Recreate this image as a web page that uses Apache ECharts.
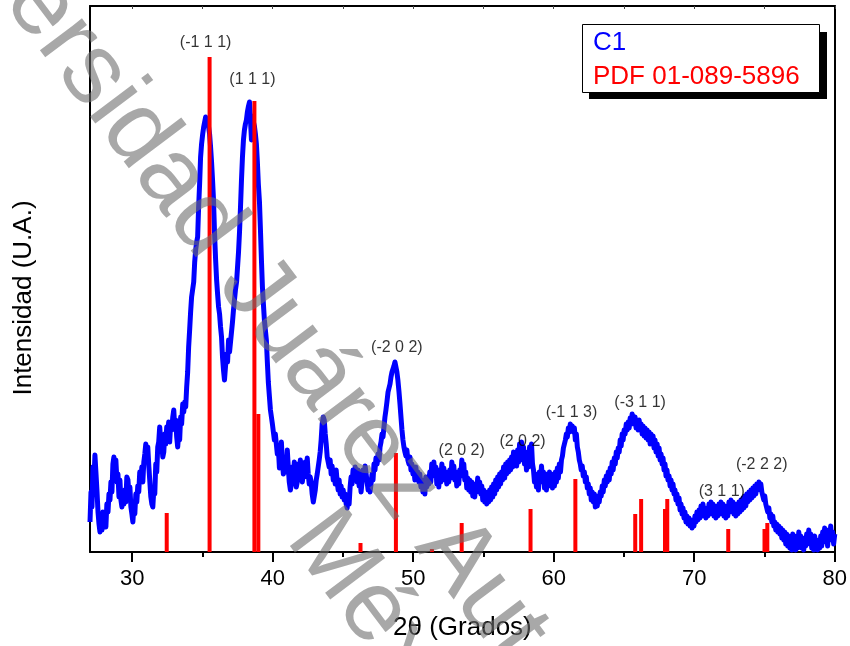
<!DOCTYPE html>
<html>
<head>
<meta charset="utf-8">
<title>DRX C1</title>
<script src="https://cdn.jsdelivr.net/npm/echarts@6/dist/echarts.min.js"></script>
<style>
    html, body { margin: 0; padding: 0; background: #fff; }
    #chart { width: 850px; height: 646px; }
</style>
</head>
<body>
<div id="chart"></div>
<script>
// difractograma de la muestra C1: [2theta, intensidad (u.a.)]
var c1Scan = [
    [27.00,30],[27.07,60],[27.14,45],[27.21,85],[27.28,70],[27.35,97],[27.42,80],[27.50,60],[27.57,40],[27.64,28],
    [27.71,20],[27.78,32],[27.85,22],[27.92,40],[27.99,28],[28.06,35],[28.13,25],[28.20,48],[28.28,40],[28.35,58],
    [28.42,52],[28.49,70],[28.56,60],[28.63,88],[28.70,95],[28.77,80],[28.84,92],[28.92,70],[28.99,78],[29.06,55],
    [29.13,72],[29.20,52],[29.27,45],[29.34,60],[29.41,48],[29.48,62],[29.55,50],[29.62,75],[29.70,72],[29.77,58],
    [29.84,65],[29.91,45],[29.98,38],[30.05,30],[30.12,45],[30.19,38],[30.26,58],[30.33,50],[30.40,66],[30.47,60],
    [30.54,80],[30.62,72],[30.69,85],[30.76,70],[30.83,90],[30.90,98],[30.97,108],[31.04,95],[31.11,105],[31.19,85],
    [31.26,70],[31.33,55],[31.40,48],[31.47,45],[31.54,62],[31.61,58],[31.68,88],[31.75,80],[31.82,105],[31.89,110],
    [31.96,125],[32.03,112],[32.11,108],[32.18,95],[32.25,100],[32.32,118],[32.39,108],[32.46,125],[32.53,118],[32.60,130],
    [32.67,110],[32.74,128],[32.82,122],[32.89,135],[32.96,142],[33.03,125],[33.10,132],[33.17,115],[33.24,105],[33.31,118],
    [33.38,112],[33.45,135],[33.52,128],[33.60,148],[33.67,140],[33.74,150],[33.81,145],[33.88,165],[33.95,180],[34.02,205],
    [34.09,222],[34.16,240],[34.23,255],[34.30,262],[34.38,270],[34.45,290],[34.52,302],[34.59,310],[34.66,315],[34.73,345],
    [34.80,368],[34.87,395],[34.94,408],[35.02,418],[35.09,425],[35.16,430],[35.23,435],[35.30,428],[35.37,432],[35.44,425],
    [35.51,418],[35.58,405],[35.65,390],[35.72,372],[35.79,352],[35.86,320],[35.94,292],[36.01,272],[36.08,258],[36.15,245],
    [36.22,238],[36.29,225],[36.36,215],[36.43,195],[36.50,182],[36.57,172],[36.64,185],[36.72,198],[36.79,190],[36.86,212],
    [36.93,200],[37.00,210],[37.07,220],[37.14,230],[37.21,242],[37.28,252],[37.35,262],[37.43,270],[37.50,285],[37.57,300],
    [37.64,320],[37.71,345],[37.78,372],[37.85,395],[37.92,412],[37.99,422],[38.06,428],[38.13,432],[38.20,440],[38.28,446],
    [38.35,450],[38.42,432],[38.49,412],[38.56,436],[38.63,430],[38.70,426],[38.77,418],[38.84,408],[38.91,390],[38.98,368],
    [39.06,350],[39.13,322],[39.20,292],[39.27,265],[39.34,248],[39.41,232],[39.48,222],[39.55,212],[39.62,190],[39.69,170],
    [39.77,155],[39.84,142],[39.91,135],[39.98,128],[40.05,120],[40.12,112],[40.19,118],[40.26,108],[40.33,98],[40.40,105],
    [40.48,84],[40.55,95],[40.62,110],[40.69,90],[40.76,78],[40.83,84],[40.90,95],[40.97,80],[41.04,102],[41.11,85],
    [41.18,70],[41.26,62],[41.33,68],[41.40,85],[41.47,72],[41.54,90],[41.61,78],[41.68,65],[41.75,70],[41.82,88],
    [41.89,76],[41.97,92],[42.04,85],[42.11,70],[42.18,80],[42.25,75],[42.32,90],[42.39,82],[42.46,94],[42.53,78],
    [42.60,68],[42.67,75],[42.74,70],[42.81,58],[42.89,50],[42.96,48],[43.03,62],[43.10,72],[43.17,78],[43.24,85],
    [43.31,92],[43.38,100],[43.45,112],[43.52,128],[43.60,135],[43.67,132],[43.74,118],[43.81,108],[43.88,95],[43.95,90],
    [44.02,85],[44.09,92],[44.16,78],[44.23,86],[44.31,72],[44.38,80],[44.45,68],[44.52,82],[44.59,70],[44.66,62],
    [44.73,72],[44.80,58],[44.87,66],[44.94,55],[45.02,62],[45.09,52],[45.16,58],[45.23,48],[45.30,44],[45.37,56],
    [45.44,48],[45.51,65],[45.58,75],[45.65,68],[45.72,82],[45.80,72],[45.87,85],[45.94,78],[46.01,70],[46.08,82],
    [46.15,66],[46.22,72],[46.29,60],[46.36,70],[46.43,82],[46.50,74],[46.58,86],[46.65,78],[46.72,70],[46.79,62],
    [46.86,72],[46.93,60],[47.00,68],[47.07,78],[47.14,72],[47.21,88],[47.28,82],[47.35,94],[47.43,88],[47.50,98],
    [47.57,92],[47.64,105],[47.71,110],[47.78,118],[47.85,115],[47.92,125],[47.99,135],[48.06,142],[48.13,150],[48.21,160],
    [48.28,158],[48.35,168],[48.42,175],[48.49,180],[48.56,182],[48.63,186],[48.70,190],[48.77,188],[48.84,180],[48.91,172],
    [48.99,160],[49.06,148],[49.13,135],[49.20,122],[49.27,112],[49.34,105],[49.41,100],[49.48,96],[49.55,102],[49.62,92],
    [49.70,88],[49.77,95],[49.84,82],[49.91,88],[49.98,78],[50.05,82],[50.12,72],[50.19,85],[50.26,74],[50.33,80],
    [50.40,70],[50.47,78],[50.55,65],[50.62,72],[50.69,60],[50.76,68],[50.83,58],[50.90,75],[50.97,65],[51.04,72],
    [51.11,68],[51.18,80],[51.25,70],[51.32,88],[51.40,82],[51.47,90],[51.54,76],[51.61,85],[51.68,68],[51.75,78],
    [51.82,65],[51.89,82],[51.96,70],[52.04,88],[52.11,75],[52.18,84],[52.25,72],[52.32,80],[52.39,68],[52.46,78],
    [52.53,70],[52.60,82],[52.68,74],[52.75,90],[52.82,78],[52.89,86],[52.96,72],[53.03,80],[53.10,66],[53.17,76],
    [53.24,68],[53.31,82],[53.39,76],[53.46,92],[53.53,80],[53.60,88],[53.67,72],[53.74,80],[53.81,64],[53.88,74],
    [53.95,62],[54.02,72],[54.09,60],[54.17,70],[54.24,56],[54.31,64],[54.38,55],[54.45,68],[54.52,60],[54.59,74],
    [54.66,62],[54.73,70],[54.81,58],[54.88,66],[54.95,52],[55.02,62],[55.09,50],[55.16,60],[55.23,48],[55.30,58],
    [55.37,50],[55.44,62],[55.51,52],[55.58,65],[55.66,55],[55.72,68],[55.80,58],[55.87,72],[55.94,62],[56.01,75],
    [56.08,65],[56.15,78],[56.22,68],[56.29,80],[56.36,72],[56.43,85],[56.51,74],[56.58,88],[56.65,78],[56.72,90],
    [56.79,80],[56.86,92],[56.93,82],[57.00,95],[57.07,85],[57.14,100],[57.21,88],[57.28,98],[57.36,86],[57.43,102],
    [57.50,90],[57.57,108],[57.64,95],[57.71,110],[57.78,92],[57.85,105],[57.92,88],[57.99,100],[58.06,82],[58.13,98],
    [58.21,85],[58.28,105],[58.35,96],[58.42,108],[58.49,88],[58.56,82],[58.63,70],[58.70,78],[58.77,65],[58.84,74],
    [58.91,62],[58.98,80],[59.06,70],[59.13,86],[59.20,72],[59.27,80],[59.34,64],[59.41,74],[59.48,62],[59.55,78],
    [59.62,66],[59.70,80],[59.77,68],[59.84,78],[59.91,64],[59.98,76],[60.05,66],[60.12,80],[60.19,70],[60.26,84],
    [60.33,74],[60.40,88],[60.48,80],[60.55,92],[60.62,96],[60.69,104],[60.76,108],[60.83,112],[60.90,118],[60.97,115],
    [61.04,124],[61.11,120],[61.18,128],[61.25,122],[61.32,126],[61.40,120],[61.47,124],[61.54,112],[61.61,118],[61.68,105],
    [61.75,100],[61.82,92],[61.89,88],[61.96,82],[62.03,86],[62.10,76],[62.18,80],[62.25,70],[62.32,75],[62.39,64],
    [62.46,68],[62.53,58],[62.60,64],[62.67,52],[62.74,60],[62.82,50],[62.89,58],[62.96,45],[63.03,52],[63.10,46],
    [63.17,56],[63.24,50],[63.31,60],[63.38,56],[63.45,66],[63.52,60],[63.60,72],[63.67,66],[63.74,76],[63.81,70],
    [63.88,80],[63.95,72],[64.02,84],[64.09,78],[64.16,90],[64.23,82],[64.31,94],[64.38,88],[64.45,100],[64.52,94],
    [64.59,104],[64.66,100],[64.73,112],[64.80,106],[64.87,118],[64.94,112],[65.01,122],[65.08,118],[65.16,128],[65.23,122],
    [65.30,130],[65.37,124],[65.44,134],[65.51,128],[65.58,138],[65.65,132],[65.72,128],[65.79,135],[65.86,124],[65.94,130],
    [66.01,122],[66.08,132],[66.15,124],[66.22,128],[66.29,118],[66.36,126],[66.43,116],[66.50,124],[66.57,114],[66.65,122],
    [66.72,112],[66.79,120],[66.86,108],[66.93,118],[67.00,110],[67.07,116],[67.14,104],[67.21,112],[67.28,100],[67.36,108],
    [67.43,96],[67.50,104],[67.57,92],[67.64,98],[67.71,88],[67.78,94],[67.85,82],[67.92,88],[67.99,76],[68.06,82],
    [68.13,72],[68.21,76],[68.28,66],[68.35,72],[68.42,62],[68.49,68],[68.56,58],[68.63,62],[68.70,52],[68.77,58],
    [68.84,48],[68.92,54],[68.99,42],[69.06,48],[69.13,38],[69.20,44],[69.27,34],[69.34,40],[69.41,30],[69.48,36],
    [69.55,28],[69.63,34],[69.70,26],[69.77,32],[69.84,24],[69.91,30],[69.98,26],[70.05,36],[70.12,30],[70.19,40],
    [70.26,32],[70.34,42],[70.41,34],[70.48,46],[70.55,38],[70.62,48],[70.69,36],[70.76,44],[70.83,34],[70.90,42],
    [70.97,36],[71.05,48],[71.12,38],[71.19,50],[71.26,40],[71.33,48],[71.40,36],[71.47,46],[71.54,34],[71.61,44],
    [71.68,36],[71.76,48],[71.83,38],[71.90,50],[71.97,40],[72.04,48],[72.11,36],[72.18,46],[72.25,34],[72.32,44],
    [72.39,36],[72.47,50],[72.54,40],[72.61,52],[72.68,42],[72.75,50],[72.82,38],[72.89,48],[72.96,36],[73.03,46],
    [73.10,38],[73.18,50],[73.25,40],[73.32,52],[73.39,42],[73.46,54],[73.53,44],[73.60,56],[73.67,46],[73.74,58],
    [73.81,50],[73.89,60],[73.96,52],[74.03,62],[74.10,54],[74.17,64],[74.24,56],[74.31,66],[74.38,58],[74.45,68],
    [74.52,62],[74.60,70],[74.67,64],[74.74,68],[74.81,60],[74.88,62],[74.95,52],[75.02,56],[75.09,48],[75.16,50],
    [75.23,40],[75.31,44],[75.38,34],[75.45,38],[75.52,30],[75.59,36],[75.66,26],[75.73,30],[75.80,22],[75.87,28],
    [75.94,20],[76.02,26],[76.09,18],[76.16,24],[76.23,14],[76.30,22],[76.37,12],[76.44,20],[76.51,8],[76.58,18],
    [76.65,6],[76.73,16],[76.80,4],[76.87,14],[76.94,2],[77.01,18],[77.08,6],[77.15,16],[77.22,2],[77.29,12],
    [77.36,4],[77.44,20],[77.51,8],[77.58,16],[77.65,4],[77.72,14],[77.79,2],[77.86,12],[77.93,6],[78.00,18],
    [78.07,8],[78.15,22],[78.22,10],[78.29,18],[78.36,4],[78.43,14],[78.50,2],[78.57,16],[78.64,6],[78.71,12],
    [78.78,2],[78.86,10],[78.93,4],[79.00,16],[79.07,6],[79.14,20],[79.21,10],[79.28,24],[79.35,12],[79.42,18],
    [79.49,6],[79.57,22],[79.64,12],[79.71,26],[79.78,14],[79.85,20],[79.92,8],[80.00,18]
];

// patron PDF 01-089-5896
var pdfAngles = [32.46, 35.51, 38.70, 38.98, 46.25, 48.77, 51.33, 53.45, 58.35, 61.54, 65.80, 66.22, 67.92, 68.08, 72.42, 75.00, 75.20];
var pdfHeights = [39, 495, 451, 138, 9, 99, 3, 29, 43, 73, 38, 53, 43, 53, 23, 23, 29];

// indices de Miller
var hklLabels = ['(-1 1 1)', '(1 1 1)', '(-2 0 2)', '(2 0 2)', '(2 0 2)', '(-1 1 3)', '(-3 1 1)', '(3 1 1)', '(-2 2 2)'];
var hklAngles = [35.23, 38.56, 48.84, 53.45, 57.78, 61.26, 66.15, 71.96, 74.80];
var hklHeights = [509, 472, 204, 101, 110, 139, 149, 60, 87];

var xMajorTicks = [30, 40, 50, 60, 70, 80];
var xMinorTicks = [35, 45, 55, 65, 75];

var FONT = "'Liberation Sans', Arial, sans-serif";

var chart = echarts.init(document.getElementById('chart'));

var pdfData = [];
for (var i = 0; i < pdfAngles.length; i++) {
    pdfData.push([pdfAngles[i], pdfHeights[i]]);
}
var hklData = [];
for (var j = 0; j < hklLabels.length; j++) {
    hklData.push({value: [hklAngles[j], hklHeights[j]], name: hklLabels[j]});
}

var option = {
    animation: false,
    backgroundColor: '#ffffff',
    grid: {left: 90, right: 12, top: 6, bottom: 94},
    xAxis: [
        {
            type: 'value', position: 'bottom', min: 27, max: 80,
            name: '2\u03b8 (Grados)', nameLocation: 'middle', nameGap: 63,
            nameTextStyle: {fontFamily: FONT, fontSize: 26, color: '#000'},
            axisLine: {show: true, lineStyle: {color: '#000', width: 2}},
            axisTick: {show: true, inside: false, length: 10, customValues: xMajorTicks,
                lineStyle: {color: '#000', width: 2}},
            axisLabel: {show: true, customValues: xMajorTicks, margin: 16,
                fontFamily: FONT, fontSize: 22, color: '#000'},
            splitLine: {show: false}
        },
        {
            // ticks menores
            type: 'value', position: 'bottom', min: 27, max: 80,
            axisLine: {show: false},
            axisTick: {show: true, inside: false, length: 5, customValues: xMinorTicks,
                lineStyle: {color: '#000', width: 2}},
            axisLabel: {show: false},
            splitLine: {show: false}
        },
        {
            type: 'value', position: 'top', min: 27, max: 80,
            axisLine: {show: true, lineStyle: {color: '#000', width: 2}},
            axisTick: {show: true, inside: true, length: 3, customValues: xMajorTicks.concat(xMinorTicks),
                lineStyle: {color: '#444', width: 1}},
            axisLabel: {show: false},
            splitLine: {show: false}
        }
    ],
    yAxis: [
        {
            type: 'value', position: 'left', min: 0, max: 546,
            axisLine: {show: true, lineStyle: {color: '#000', width: 2}},
            axisTick: {show: false}, axisLabel: {show: false}, splitLine: {show: false}
        },
        {
            type: 'value', position: 'right', min: 0, max: 546,
            axisLine: {show: true, lineStyle: {color: '#000', width: 2}},
            axisTick: {show: false}, axisLabel: {show: false}, splitLine: {show: false}
        }
    ],
    series: [
        {
            name: 'C1', type: 'line', xAxisIndex: 0, yAxisIndex: 0,
            data: c1Scan, showSymbol: false, z: 3,
            lineStyle: {color: '#0000ff', width: 5, join: 'round'}
        },
        {
            name: 'PDF 01-089-5896', type: 'custom', xAxisIndex: 0, yAxisIndex: 0, z: 4,
            data: pdfData,
            renderItem: function (params, api) {
                var top = api.coord([api.value(0), api.value(1)]);
                var base = api.coord([api.value(0), 0]);
                return {
                    type: 'rect',
                    shape: {x: top[0] - 2, y: top[1], width: 4, height: base[1] - top[1]},
                    style: {fill: '#ff0000'}
                };
            }
        },
        {
            name: 'hkl', type: 'scatter', xAxisIndex: 0, yAxisIndex: 0, z: 5,
            data: hklData, symbolSize: 0, silent: true,
            label: {
                show: true, position: 'inside', formatter: '{b}',
                fontFamily: FONT, fontSize: 16, color: '#000'
            }
        }
    ],
    graphic: [
        // leyenda con sombra
        {type: 'rect', left: 589, top: 32, z: 10,
            shape: {width: 238, height: 67}, style: {fill: '#000'}},
        {type: 'rect', left: 582, top: 24, z: 11,
            shape: {width: 237, height: 68}, style: {fill: '#fff', stroke: '#000', lineWidth: 1}},
        {type: 'text', x: 593, y: 43, z: 12,
            style: {text: 'C1', font: '26px ' + FONT, fill: '#0000ff', verticalAlign: 'middle'}},
        {type: 'text', x: 593, y: 77, z: 12,
            style: {text: 'PDF 01-089-5896', font: '26px ' + FONT, fill: '#ff0000', verticalAlign: 'middle'}},
        // titulo eje y
        {type: 'text', x: 24, y: 298, rotation: Math.PI / 2, z: 12,
            style: {text: 'Intensidad (U.A.)', font: '26px ' + FONT, fill: '#000',
                align: 'center', verticalAlign: 'middle'}},
        // marca de agua
        {type: 'text', x: -96, y: -176, rotation: -53 * Math.PI / 180, z: 20, silent: true,
            style: {text: 'Universidad Juárez Autónoma de Tabasco', font: '100px ' + FONT,
                fill: 'rgba(110,110,110,0.6)', align: 'left', verticalAlign: 'middle'}},
        {type: 'text', x: 307, y: 523, rotation: -53 * Math.PI / 180, z: 20, silent: true,
            style: {text: 'México', font: '100px ' + FONT,
                fill: 'rgba(110,110,110,0.6)', align: 'left', verticalAlign: 'middle'}}
    ]
};

chart.setOption(option);
</script>
</body>
</html>
